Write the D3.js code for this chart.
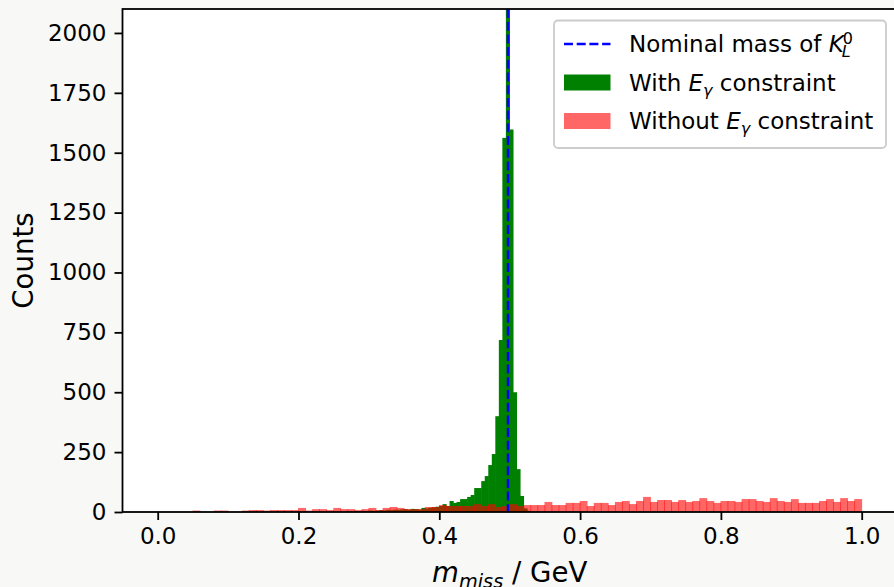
<!DOCTYPE html>
<html>
<head>
<meta charset="utf-8">
<script src="https://cdn.jsdelivr.net/npm/d3@7"></script>
<style>
  body { margin: 0; background: #f8f8f6; }
  svg { display: block; font-family: 'DejaVu Sans', sans-serif; }
</style>
</head>
<body>
<svg width="894" height="587"></svg>
<script>
// without E_gamma constraint: 100 bins of width 0.01 between 0 and 1
const redStart = 0.0;
const redWidth = 0.01;
const redCounts = [
  0, 0, 0, 0, 0, 6, 0, 0, 6, 6,
  0, 0, 6, 8, 8, 6, 8, 8, 8, 8,
  17, 6, 12, 12, 8, 17, 12, 12, 8, 12,
  17, 8, 17, 21, 17, 12, 12, 12, 21, 21,
  29, 25, 25, 25, 25, 33, 25, 33, 21, 25,
  33, 25, 29, 29, 29, 42, 29, 29, 38, 38,
  46, 25, 38, 38, 29, 42, 46, 33, 46, 63,
  42, 50, 50, 42, 50, 42, 46, 58, 46, 38,
  46, 46, 42, 54, 54, 46, 42, 58, 46, 42,
  54, 38, 38, 38, 46, 54, 42, 58, 46, 54
];

// with E_gamma constraint: bins of width 0.005 starting at 0.27
const greenStart = 0.27;
const greenWidth = 0.005;
const greenCounts = [
  3, 2, 4, 3, 5, 4, 6, 5, 6, 8,
  7, 9, 8, 10, 9, 11, 12, 10, 13, 12,
  10, 17, 15, 18, 20, 22, 25, 33, 25, 46,
  38, 42, 54, 54, 63, 71, 100, 100, 129, 150,
  196, 242, 400, 718, 1562, 2450, 1597, 500, 179, 67,
  15, 5
];

const nominalMass = 0.497611;   // K_L^0 mass in GeV

const xTicks = [0.0, 0.2, 0.4, 0.6, 0.8, 1.0];
const yTicks = [0, 250, 500, 750, 1000, 1250, 1500, 1750, 2000];

const svg = d3.select('svg');

const render = () => {
    const fontSize = 23;
    const labelSize = 27.6;
    const left = 122.5, right = 896.9, top = 9, bottom = 512;

    const xScale = d3.scaleLinear()
        .domain([-0.05, 1.05])
        .range([left, right]);

    const yScale = d3.scaleLinear()
        .domain([0, 2100])
        .range([bottom, top]);

    svg.append('defs').append('clipPath')
        .attr('id', 'plot-area')
        .append('rect')
        .attr('x', left).attr('y', top)
        .attr('width', right - left).attr('height', bottom - top);

    svg.append('rect')
        .attr('x', left).attr('y', top)
        .attr('width', right - left).attr('height', bottom - top)
        .attr('fill', 'white');

    const plot = svg.append('g').attr('clip-path', 'url(#plot-area)');

    // green histogram (tiny overlap so no seams show between bins)
    plot.selectAll('rect.green').data(greenCounts)
        .enter().append('rect')
        .attr('class', 'green')
        .attr('x', (d, i) => xScale(greenStart + i * greenWidth) - 0.3)
        .attr('width', (d, i) => xScale(greenStart + (i + 1) * greenWidth) - xScale(greenStart + i * greenWidth) + 0.6)
        .attr('y', d => yScale(d))
        .attr('height', d => yScale(0) - yScale(d))
        .attr('fill', 'green');

    // red histogram on top, semi transparent (slight overlap gives the seams)
    plot.selectAll('rect.red').data(redCounts)
        .enter().append('rect')
        .attr('class', 'red')
        .attr('x', (d, i) => xScale(redStart + i * redWidth) - 0.4)
        .attr('width', (d, i) => xScale(redStart + (i + 1) * redWidth) - xScale(redStart + i * redWidth) + 0.8)
        .attr('y', d => yScale(d))
        .attr('height', d => yScale(0) - yScale(d))
        .attr('fill', 'red')
        .attr('fill-opacity', 0.6);

    // nominal mass line
    plot.append('line')
        .attr('x1', xScale(nominalMass)).attr('x2', xScale(nominalMass))
        .attr('y1', top).attr('y2', bottom)
        .attr('stroke', 'blue')
        .attr('stroke-width', 2.5)
        .attr('stroke-dasharray', '9,3.7');

    // axes
    const xAxis = d3.axisBottom(xScale)
        .tickValues(xTicks)
        .tickFormat(d3.format('.1f'))
        .tickSize(8)
        .tickPadding(8);

    const xAxisG = svg.append('g')
        .attr('transform', `translate(0, ${bottom})`)
        .call(xAxis);

    const yAxis = d3.axisLeft(yScale)
        .tickValues(yTicks)
        .tickFormat(d3.format('d'))
        .tickSize(8)
        .tickPadding(8);

    const yAxisG = svg.append('g')
        .attr('transform', `translate(${left}, 0)`)
        .call(yAxis);

    [xAxisG, yAxisG].forEach(g => {
        g.select('.domain').remove();
        g.attr('font-size', fontSize).attr('font-family', 'DejaVu Sans');
        g.selectAll('.tick line').attr('stroke', 'black').attr('stroke-width', 1.8);
        g.selectAll('.tick text').attr('fill', 'black');
    });

    // spines
    svg.append('rect')
        .attr('x', left).attr('y', top)
        .attr('width', right - left).attr('height', bottom - top)
        .attr('fill', 'none')
        .attr('stroke', 'black')
        .attr('stroke-width', 1.8);

    // axis labels
    const xLabel = svg.append('text')
        .attr('x', (left + right) / 2)
        .attr('y', 582)
        .attr('text-anchor', 'middle')
        .attr('font-size', labelSize);
    xLabel.append('tspan').attr('font-style', 'italic').text('m');
    xLabel.append('tspan').attr('font-style', 'italic').attr('font-size', 19.3).attr('dy', 5.5).text('miss');
    xLabel.append('tspan').attr('dy', -5.5).text(' / GeV');

    svg.append('text')
        .attr('transform', `translate(33, ${(top + bottom) / 2}) rotate(-90)`)
        .attr('text-anchor', 'middle')
        .attr('font-size', labelSize)
        .text('Counts');

    // legend
    const legend = svg.append('g');
    legend.append('rect')
        .attr('x', 554).attr('y', 20.5)
        .attr('width', 332).attr('height', 127.5)
        .attr('rx', 4)
        .attr('fill', 'white').attr('fill-opacity', 0.8)
        .attr('stroke', '#cccccc').attr('stroke-width', 1.8);

    const handleX = 564, handleW = 46.5, textX = 629;
    const rows = [44, 82.5, 121];

    legend.append('line')
        .attr('x1', handleX).attr('x2', handleX + handleW)
        .attr('y1', rows[0]).attr('y2', rows[0])
        .attr('stroke', 'blue').attr('stroke-width', 2.5)
        .attr('stroke-dasharray', '9,3.7');
    legend.append('rect')
        .attr('x', handleX).attr('y', rows[1] - 8)
        .attr('width', handleW).attr('height', 16)
        .attr('fill', 'green');
    legend.append('rect')
        .attr('x', handleX).attr('y', rows[2] - 8)
        .attr('width', handleW).attr('height', 16)
        .attr('fill', 'red').attr('fill-opacity', 0.6);

    const t1 = legend.append('text')
        .attr('x', textX).attr('y', rows[0] + 8)
        .attr('font-size', fontSize);
    t1.append('tspan').text('Nominal mass of ');
    t1.append('tspan').attr('font-style', 'italic').text('K');
    const sub = t1.append('tspan').attr('font-style', 'italic')
        .attr('font-size', 16).attr('dy', 5).attr('dx', -2).text('L');
    const subW = sub.node().getComputedTextLength();
    t1.append('tspan').attr('font-size', 16)
        .attr('dy', -13.5).attr('dx', -subW + 1).text('0');

    const eGamma = (y, before) => {
        const t = legend.append('text')
            .attr('x', textX).attr('y', y)
            .attr('font-size', fontSize);
        t.append('tspan').text(before);
        t.append('tspan').attr('font-style', 'italic').text('E');
        t.append('tspan').attr('font-style', 'italic').attr('font-size', 16).attr('dy', 5).text('γ');
        t.append('tspan').attr('dy', -5).text(' constraint');
    };
    eGamma(rows[1] + 8, 'With ');
    eGamma(rows[2] + 8, 'Without ');
};

render();
</script>
</body>
</html>
